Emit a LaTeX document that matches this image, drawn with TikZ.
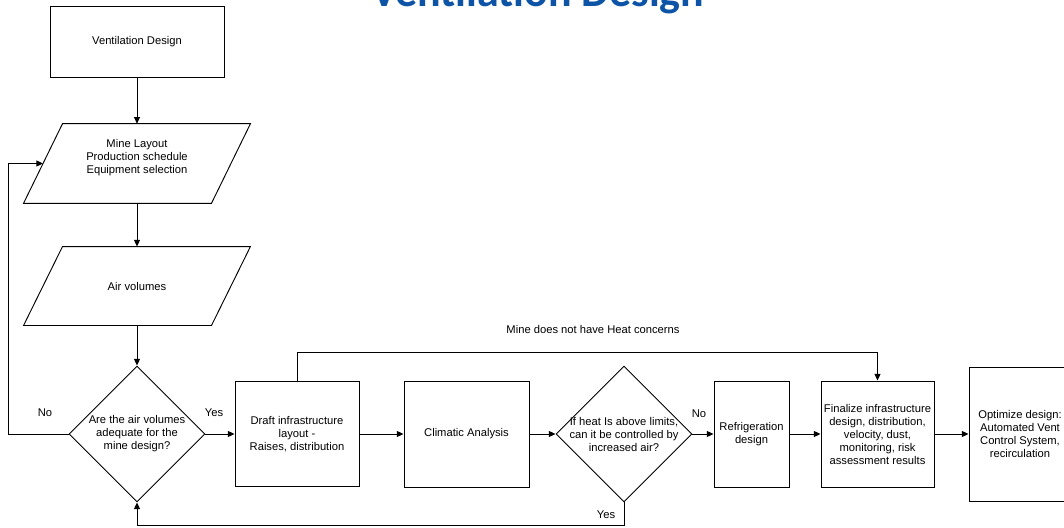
\documentclass[tikz,border=0pt]{standalone}
\usepackage{fontspec}
\setmainfont{Liberation Sans}
\newfontfamily\ttlfont{Carlito}
\usepackage{tikz}
\usetikzlibrary{arrows.meta,positioning,shapes.geometric}
\definecolor{ttlblue}{RGB}{14,84,166}
\tikzset{
  box/.style={draw,rectangle,align=center,inner sep=0pt},
  para/.style={rectangle,minimum width=140.25pt,minimum height=59pt,inner sep=0pt,align=center},
  decision/.style={draw,diamond,aspect=1,minimum width=102pt,minimum height=102pt,inner sep=0pt},
  ttl/.style={font=\ttlfont\bfseries\fontsize{33}{36}\selectfont,text=ttlblue,inner sep=0pt}
}

\begin{document}
\begin{tikzpicture}[x=0.75pt,y=-0.75pt,>={Triangle[length=5pt,width=4.5pt]},line width=0.7pt,
  every node/.style={font=\fontsize{8.4}{9.75}\selectfont}]
\useasboundingbox (0,0) rectangle (1064,528);
\clip (0,0) rectangle (1064,528);
\node[ttl,anchor=base] (title) at (538,7) {Ventilation Design};
% left column
\node[box,minimum width=130.5pt,minimum height=53.25pt] (vd) at (137,41.5) {Ventilation Design};
\node[para,label={[align=center,yshift=4.5pt]center:Mine Layout\\Production schedule\\Equipment selection}] (ml) at (137,163.5) {};
\node[para,minimum height=58.5pt] (av) at (137,286) {Air volumes};
\foreach \n in {ml,av}
  \draw ([xshift=14.6pt]\n.north west) -- ([xshift=14.6pt]\n.north east)
    -- ([xshift=-14.6pt]\n.south east) -- ([xshift=-14.6pt]\n.south west) -- cycle;
\node[decision,label={[align=center]center:Are the air volumes\\adequate for the\\mine design?}] (q1) at (137,434) {};
% bottom row
\node[box,minimum width=93pt,minimum height=78.75pt] (dl) at (297,434) {Draft infrastructure\\layout -\\Raises, distribution};
\node[box,minimum width=93.75pt,minimum height=79.5pt] (ca) at (466.5,434) {Climatic Analysis};
\node[decision,label={[align=center]center:If heat Is above limits,\\can it be controlled by\\increased air?}] (q2) at (624,434) {};
\node[box,minimum width=56.25pt,minimum height=79.5pt] (rf) at (751.5,434) {Refrigeration\\design};
\node[box,minimum width=84.75pt,minimum height=79.5pt] (fi) at (877.5,434) {Finalize infrastructure\\design, distribution,\\velocity, dust,\\monitoring, risk\\assessment results};
\node[box,minimum width=76.5pt,minimum height=100.5pt] (od) at (1020,434) {Optimize design:\\Automated Vent\\Control System,\\recirculation};
% labels
\node (no1) at (45,413) {No};
\node (yes1) at (214,413) {Yes};
\node (no2) at (699,414) {No};
\node (yes2) at (606,515) {Yes};
\node (nh) at (593,329) {Mine does not have Heat concerns};
\coordinate (back) at (8,434);
% arrows
\draw[->] (vd) -- (ml);
\draw[->] (ml) -- (av);
\draw[->] (av) -- (q1);
\draw[->] (q1.west) -- (back) |- (ml.west);
\foreach \a/\b in {q1/dl,dl/ca,ca/q2,q2/rf,rf/fi,fi/od} \draw[->] (\a) -- (\b);
\draw[->] (dl.north) -- ++(0,-29) -| (fi.north);
\draw[->] (q2.south) -- ++(0,23) -| (q1.south);
\end{tikzpicture}
\end{document}
